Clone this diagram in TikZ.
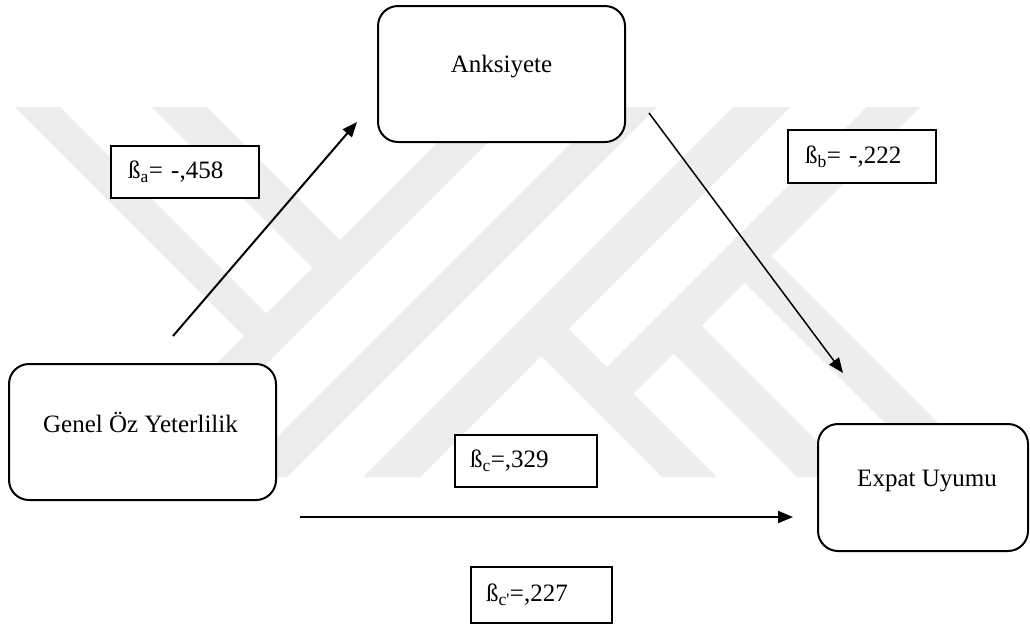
\documentclass[tikz,border=0pt]{standalone}
\usepackage{fontspec}
\setmainfont{Liberation Serif}
\usetikzlibrary{arrows.meta}
\definecolor{wm}{RGB}{237,237,237}
\begin{document}
\begin{tikzpicture}[x=1pt,y=-1pt,
  rbox/.style={draw, fill=white, line width=2pt, rounded corners=20pt, inner sep=0pt},
  lbox/.style={draw, fill=white, line width=2pt, inner ysep=0pt, align=left,
               font=\fontsize{25}{30}\selectfont},
  txt/.style={font=\fontsize{25}{30}\selectfont, anchor=base, inner sep=0pt},
  arr/.style={line width=2pt, -{Triangle[length=15pt,width=12pt]}},
  wmark/.style={fill=wm, draw=none}]
\useasboundingbox (0,0) rectangle (1030,625);
\fill[white] (0,0) rectangle (1030,625);
% watermark
\fill[wmark] (15,107) -- (60,107) -- (266.5,313.5) -- (244,336) -- cycle;
\fill[wmark] (152,107) -- (207,107) -- (340,240) -- (312.5,267.5) -- cycle;
\fill[wmark] (473,107) -- (523,107) -- (153,477) -- (103,477) -- cycle;
\fill[wmark] (607,107) -- (657,107) -- (287,477) -- (237,477) -- cycle;
\fill[wmark] (733,107) -- (790,107) -- (420,477) -- (363,477) -- cycle;
\fill[wmark] (867,107) -- (920,107) -- (633.5,393.5) -- (607,367) -- cycle;
\fill[wmark] (568.5,328.5) -- (717,477) -- (662,477) -- (541,356) -- cycle;
\fill[wmark] (701.5,325.5) -- (853,477) -- (797,477) -- (673.5,353.5) -- cycle;
\fill[wmark] (771,256) -- (992,477) -- (939,477) -- (744.5,282.5) -- cycle;
% main boxes
\node[rbox, minimum width=247pt, minimum height=136pt] (ank) at (501.5,74) {};
\node[txt] (ankT) at (501.5,72.5) {Anksiyete};
\node[rbox, minimum width=267pt, minimum height=136pt] (gen) at (142.5,432) {};
\node[txt] (genT) at (140.5,432) {Genel Öz Yeterlilik};
\node[rbox, minimum width=210pt, minimum height=127pt] (exp) at (923,487.5) {};
\node[txt] (expT) at (927,486) {Expat Uyumu};
% labels
\node[lbox, minimum height=52pt, inner xsep=17pt, text width=114pt] (la) at (185,172) {ß\textsubscript{a}= -,458};
\node[lbox, minimum height=53pt, inner xsep=17pt, text width=114pt] (lb) at (862,156.5) {ß\textsubscript{b}= -,222};
\node[lbox, minimum height=52pt, inner xsep=15pt, text width=112pt] (lc) at (526,461) {ß\textsubscript{c}=,329};
\node[lbox, minimum height=56pt, inner xsep=15pt, text width=111pt] (lcp) at (541.5,595) {ß\textsubscript{c\textquotesingle}=,227};
% arrows
\coordinate (a1) at (173,336);
\coordinate (a2) at (357,122);
\coordinate (b1) at (649,113);
\coordinate (b2) at (843,373);
\coordinate (c1) at (300,517);
\coordinate (c2) at (793,517);
\draw[arr] (a1) -- (a2);
\draw[arr, line width=1.5pt] (b1) -- (b2);
\draw[arr] (c1) -- (c2);
\end{tikzpicture}
\end{document}
